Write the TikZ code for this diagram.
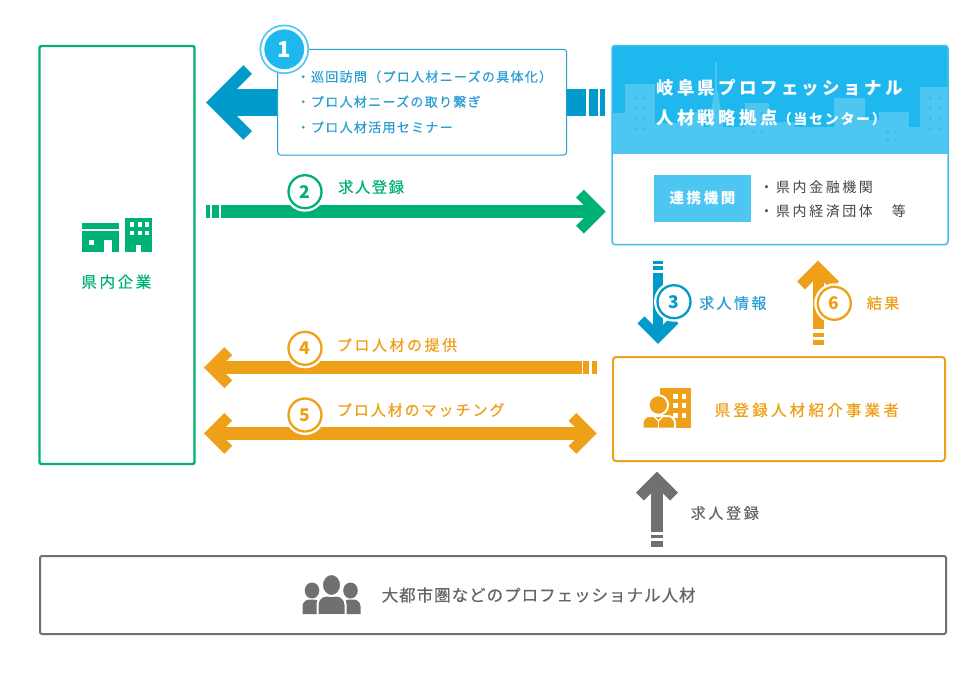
\documentclass[tikz,border=0pt]{standalone}
\usepackage{fontspec}
\setmainfont{Noto Sans CJK JP}
\newfontfamily\jpm[FakeBold=0.5]{Noto Sans CJK JP}
\usetikzlibrary{calc}
\definecolor{cgreen}{HTML}{00B174}
\definecolor{corange}{HTML}{EEA018}
\definecolor{cblue}{HTML}{009BCB}
\definecolor{cbtext}{HTML}{2B9ED4}
\definecolor{ctop}{HTML}{1EB8EE}
\definecolor{clight}{HTML}{4DC6F2}
\definecolor{cwin}{HTML}{39BEEF}
\definecolor{cborder}{HTML}{3FBFEE}
\definecolor{cgray}{HTML}{707070}
\definecolor{cgtext}{HTML}{666666}
\definecolor{cdark}{HTML}{444444}
\newcommand\fs[2]{\fontsize{#1}{#1}\selectfont\addfontfeatures{LetterSpace=#2}}
\begin{document}
\begin{tikzpicture}[x=1pt,y=-1pt,
  txt/.style={inner sep=0pt, anchor=west},
  numc/.style={circle, draw=#1, line width=2.3pt, fill=white, minimum size=33pt, inner sep=0pt, text=#1,
    preaction={draw=white, line width=7pt}, font=\bfseries\fs{17.5}{0}}
]
\useasboundingbox (0,0) rectangle (980,678);
\fill[white] (0,0) rectangle (980,678);

% ---------- left box
\node[draw=cgreen, line width=2.4pt, rounded corners=2pt, minimum width=155pt, minimum height=418pt, inner sep=0pt] (kigyo) at (117,255) {};
\fill[cgreen] (81.7,223.3) rectangle (119.3,251.7);
\fill[white] (81.7,229.3) rectangle (119.3,231);
\fill[white] (89,240) rectangle (94,245);
\fill[white] (104,240) rectangle (111.7,251.7);
\fill[cgreen] (125,217.7) rectangle (151.7,251.7);
\foreach \wx in {130,137.5,145} \foreach \wy in {222.3,230.7} \fill[white] (\wx,\wy) rectangle ++(4.2,4.3);
\fill[white] (136,245) rectangle (141,251.7);
\node[txt, text=cgreen] (kigyot) at (81.2,281.7) {\jpm\fs{15.5}{17}県内企業};

% ---------- top right box
\begin{scope}
\clip[rounded corners=3pt] (612,45.5) rectangle (948,244.5);
\fill[ctop] (612,45.5) rectangle (948,154.3);
\begin{scope}
\clip (612,45.5) rectangle (948,154.3);
\fill[clight] (612,126.7) rectangle (948,154.3);
\fill[clight] (612,113) rectangle (625,154.3);
\fill[clight] (624.7,84) rectangle (654.7,154.3);
\fill[clight] (654.7,123) rectangle (682,154.3);
\fill[clight] (682,112) rectangle (703,154.3);
\draw[clight, line width=1.5pt] (716,62) -- (716,100);
\fill[clight] (714,92) -- (718,92) -- (727,150) -- (705,150) -- cycle;
\fill[clight] (745,103) rectangle (768.7,154.3);
\fill[clight] (768.7,122) rectangle (793.7,154.3);
\fill[clight] (833.7,98) rectangle (865,154.3);
\fill[clight] (865,120) rectangle (878.7,154.3);
\fill[clight] (878.7,111.7) rectangle (908.7,154.3);
\fill[clight] (920,86.7) rectangle (948,154.3);
\foreach \wx in {633.7,642.7} \foreach \wy in {96.7,106.7,116.7,126.7} \fill[cwin] (\wx,\wy) rectangle ++(3.3,3.3);
\foreach \wx in {928.7,937.5} \foreach \wy in {96.7,106.7,116.7,126.7} \fill[cwin] (\wx,\wy) rectangle ++(3.3,3.3);
\foreach \wx in {752,760} \foreach \wy in {112,121,130} \fill[cwin] (\wx,\wy) rectangle ++(3,3);
\foreach \wx in {886,894} \foreach \wy in {130,139} \fill[cwin] (\wx,\wy) rectangle ++(3,3);
\end{scope}
\end{scope}
\node[draw=cborder, line width=1.5pt, rounded corners=3pt, minimum width=336pt, minimum height=199pt, inner sep=0pt] (center) at (780,145) {};
\node[txt, text=white] (h1) at (656,88.3) {\bfseries\fs{17.5}{19}岐阜県プロフェッショナル};
\node[txt, text=white] (h2) at (656,118.3) {\bfseries\fs{17.5}{19}人材戦略拠点\fs{14}{12}（当センター）};
\node[fill=clight, minimum width=96.4pt, minimum height=46.7pt, inner sep=0pt, text=white] (renkei) at (702.5,198.3) {\bfseries\fs{14.5}{18}連携機関};
\node[txt, text=cdark] (r1) at (759.5,186.7) {\fs{14}{18}・県内金融機関};
\node[txt, text=cdark] (r2) at (759.5,211.7) {\fs{14}{18}・県内経済団体　等};

% ---------- arrow 1
\coordinate (a1s) at (586,102.5);
\coordinate (a1e) at (221,102.5);
\coordinate (a1v) at (214.7,102.5);
\draw[cblue, line width=27pt] (a1s) -- (a1e);
\draw[cblue, line width=12.3pt] ($(a1v)+(33,-33)$) -- (a1v) -- ($(a1v)+(33,33)$);
\fill[cblue] (589,89.3) rectangle (597.7,116);
\fill[cblue] (600,89.3) rectangle (605,116);
\node[draw=cbtext, line width=1pt, fill=white, rounded corners=3pt, minimum width=289pt, minimum height=105.7pt, inner sep=0pt] (box1) at (422.2,102.2) {};
\node[txt, text=cbtext] (b1a) at (296.5,76.7) {\jpm\fs{13}{10}・巡回訪問（プロ人材ニーズの具体化）};
\node[txt, text=cbtext] (b1b) at (296.5,101.7) {\jpm\fs{13}{10}・プロ人材ニーズの取り繋ぎ};
\node[txt, text=cbtext] (b1c) at (296.5,127.3) {\jpm\fs{13}{10}・プロ人材活用セミナー};
\node[circle, fill=ctop, minimum size=43pt, draw=white, line width=3pt, inner sep=0pt,
  preaction={draw=clight, line width=6.5pt}, text=white] (n1) at (284.3,49.3) {\bfseries\fs{22}{0}1};

% ---------- arrow 2
\coordinate (a2s) at (221,211.7);
\coordinate (a2e) at (596,211.7);
\coordinate (a2v) at (598,211.7);
\draw[cgreen, line width=13pt] (a2s) -- (a2e);
\draw[cgreen, line width=11pt] ($(a2v)+(-18,-18)$) -- (a2v) -- ($(a2v)+(-18,18)$);
\fill[cgreen] (206,205.2) rectangle (210,218.2);
\fill[cgreen] (212.3,205.2) rectangle (219,218.2);
\node[numc=cgreen] (n2) at (305,191.7) {2};
\node[txt, text=cgreen] (l2) at (338,187) {\jpm\fs{15.3}{10}求人登録};

% ---------- arrow 4
\coordinate (a4s) at (581.7,367.7);
\coordinate (a4e) at (214,367.7);
\coordinate (a4v) at (211.8,367.7);
\draw[corange, line width=13pt] (a4s) -- (a4e);
\draw[corange, line width=11pt] ($(a4v)+(16.5,-16.5)$) -- (a4v) -- ($(a4v)+(16.5,16.5)$);
\fill[corange] (583.3,361.2) rectangle (589,374.2);
\fill[corange] (591.7,361.2) rectangle (597.3,374.2);
\node[numc=corange] (n4) at (305,348.3) {4};
\node[txt, text=corange] (l4) at (336.7,345) {\jpm\fs{15}{17}プロ人材の提供};

% ---------- arrow 5
\coordinate (a5l) at (211.8,433.3);
\coordinate (a5r) at (589,433.3);
\draw[corange, line width=13pt] ($(a5l)+(2,0)$) -- ($(a5r)+(-2,0)$);
\draw[corange, line width=11pt] ($(a5l)+(16.5,-16.5)$) -- (a5l) -- ($(a5l)+(16.5,16.5)$);
\draw[corange, line width=11pt] ($(a5r)+(-16.5,-16.5)$) -- (a5r) -- ($(a5r)+(-16.5,16.5)$);
\node[numc=corange] (n5) at (305,415) {5};
\node[txt, text=corange] (l5) at (336.7,410) {\jpm\fs{15}{13}プロ人材のマッチング};

% ---------- arrow 3
\coordinate (a3s) at (658,272.7);
\coordinate (a3v) at (658,336.9);
\draw[cblue, line width=10pt] (a3s) -- ($(a3v)+(0,-1)$);
\draw[cblue, line width=10pt] ($(a3v)+(-17,-17)$) -- (a3v) -- ($(a3v)+(17,-17)$);
\fill[cblue] (653,261) rectangle (663,263.5);
\fill[cblue] (653,266) rectangle (663,270);
\node[numc=cblue] (n3) at (674,301.7) {3};
\node[txt, text=cbtext] (l3) at (699,303) {\jpm\fs{15}{16}求人情報};

% ---------- arrow 6
\coordinate (a6s) at (818,329);
\coordinate (a6v) at (818,268.5);
\draw[corange, line width=11pt] (a6s) -- ($(a6v)+(0,2)$);
\draw[corange, line width=11pt] ($(a6v)+(-17,17)$) -- (a6v) -- ($(a6v)+(17,17)$);
\fill[corange] (812.5,332.7) rectangle (823.5,336.7);
\fill[corange] (812.5,340) rectangle (823.5,345);
\node[numc=corange] (n6) at (834.3,303.3) {6};
\node[txt, text=corange] (l6) at (866.7,303) {\jpm\fs{15}{16}結果};

% ---------- orange box
\node[draw=corange, line width=2pt, rounded corners=3pt, minimum width=332pt, minimum height=104pt, inner sep=0pt] (jigyo) at (779,409) {};
\fill[corange] (660,388) rectangle (691,428);
\foreach \wx in {673.3,681.7} \foreach \wy in {394,403.3,412.7} \fill[white] (\wx,\wy) rectangle ++(4.4,5);
\filldraw[fill=corange, draw=white, line width=2pt] (642.5,428.5) [rounded corners=7pt] -- (642.5,416) -- (675,416) [sharp corners] -- (675,428.5) -- cycle;
\draw[white, line width=1.2pt] (654,416.5) -- (658.5,421) -- (663,416.5);
\draw[white, line width=1.4pt] (658.5,421) -- (658.5,428.5);
\filldraw[fill=corange, draw=white, line width=2pt] (658.3,405) circle (9.8);
\node[txt, text=corange] (jigyot) at (714.5,410) {\jpm\fs{15.5}{21}県登録人材紹介事業者};

% ---------- gray arrow
\coordinate (gs) at (657,531.7);
\coordinate (gv) at (657,479.5);
\draw[cgray, line width=11.7pt] (gs) -- ($(gv)+(0,2)$);
\draw[cgray, line width=11pt] ($(gv)+(-17,17)$) -- (gv) -- ($(gv)+(17,17)$);
\fill[cgray] (651.2,535) rectangle (662.8,537.7);
\fill[cgray] (651.2,540.7) rectangle (662.8,546.7);
\node[txt, text=cgtext] (lg) at (690.5,513) {\jpm\fs{15}{18}求人登録};

% ---------- bottom box
\node[draw=cgray, line width=2pt, rounded corners=2pt, minimum width=906pt, minimum height=78pt, inner sep=0pt] (jinzai) at (493,595) {};
\fill[cgray] (312,590.5) ellipse (7.3 and 8);
\fill[cgray] (302.5,614) [rounded corners=7pt] -- (302.5,599.5) -- (321,599.5) [sharp corners] -- (321,614) -- cycle;
\fill[cgray] (350.5,590.5) ellipse (7.3 and 8);
\fill[cgray] (342,614) [rounded corners=7pt] -- (342,599.5) -- (360.5,599.5) [sharp corners] -- (360.5,614) -- cycle;
\filldraw[fill=cgray, draw=white, line width=2pt] (317.5,615) [rounded corners=9pt] -- (317.5,595.5) -- (345.5,595.5) [sharp corners] -- (345.5,615) -- cycle;
\filldraw[fill=cgray, draw=white, line width=2pt] (331.5,585) ellipse (9.6 and 11);
\node[txt, text=cgtext] (jinzait) at (381.5,595) {\jpm\fs{16.5}{6}大都市圏などのプロフェッショナル人材};
\end{tikzpicture}
\end{document}
